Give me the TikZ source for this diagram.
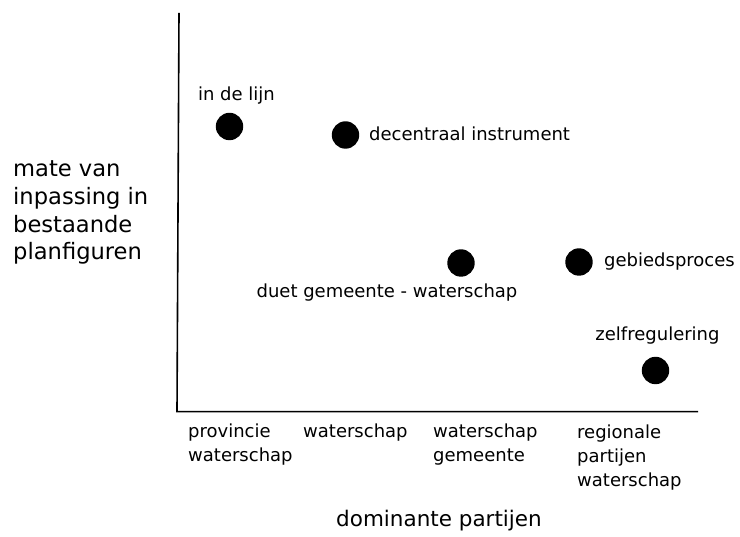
\documentclass[tikz,border=0pt]{standalone}
\usepackage{fontspec}
\setmainfont{DejaVu Sans}
\begin{document}
\begin{tikzpicture}[x=1pt,y=-1pt,
  axisline/.style={line width=1.6pt,line join=miter},
  dot/.style={circle,fill=black,draw=none,inner sep=0pt,minimum size=27.4pt},
  lbl/.style={inner sep=0pt,font=\fontsize{18}{24}\selectfont},
  cat/.style={inner sep=0pt,align=left,anchor=base west,font=\fontsize{18}{24}\selectfont},
  ylbl/.style={inner sep=0pt,align=left,anchor=base west,font=\fontsize{22.6}{27.7}\selectfont},
  xlbl/.style={inner sep=0pt,anchor=base,font=\fontsize{21.5}{26}\selectfont}]
\useasboundingbox (0,0) rectangle (740,537);

% axes
\coordinate (ytop) at (179,13);
\coordinate (origin) at (177,411.7);
\coordinate (xend) at (698,411.7);
\draw[axisline] (ytop) -- (origin) -- (xend);

% positions of the instruments
\node[dot] (lijn) at (229.5,126.5) {};
\node[dot] (decentraal) at (345.5,135) {};
\node[dot] (duet) at (461,263) {};
\node[dot] (gebied) at (579,262) {};
\node[dot] (zelf) at (655.5,370.5) {};

\node[lbl,anchor=base] (lijnlbl) at (236.5,100.7) {in de lijn};
\node[lbl,anchor=base west] (decentraallbl) at (369,140.7) {decentraal instrument};
\node[lbl,anchor=base] (duetlbl) at (387,298) {duet gemeente - waterschap};
\node[lbl,anchor=base west] (gebiedlbl) at (604,267) {gebiedsproces};
\node[lbl,anchor=base] (zelflbl) at (657.5,341) {zelfregulering};

% vertical axis title (base anchor sits on the last line)
\node[ylbl] (ytitle) at (13,260) {mate van\\inpassing in\\bestaande\\planfiguren};

% categories along the horizontal axis (base anchor sits on the last line)
\node[cat] (c1) at (188,462) {provincie\\waterschap};
\node[cat] (c2) at (303,438) {waterschap};
\node[cat] (c3) at (433,462) {waterschap\\gemeente};
\node[cat] (c4) at (577,486.5) {regionale\\partijen\\waterschap};

% horizontal axis title
\node[xlbl] (xtitle) at (439,527) {dominante partijen};
\end{tikzpicture}
\end{document}
